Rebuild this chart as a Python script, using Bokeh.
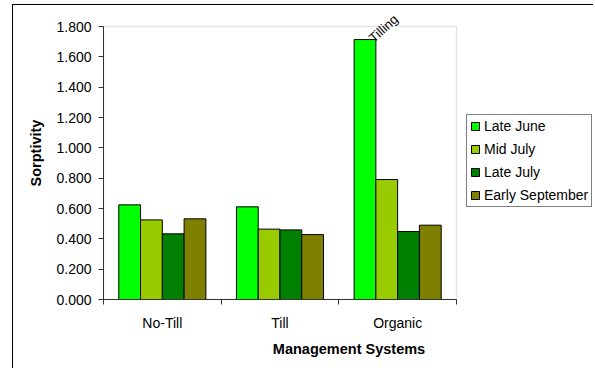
from bokeh.plotting import figure
from bokeh.models import (Range1d, FixedTicker, NumeralTickFormatter, Legend, LegendItem,
                          Label, ColumnDataSource, BoxAnnotation)
from bokeh.embed import file_html
from bokeh.resources import INLINE

# ---- data ----
systems = ["No-Till", "Till", "Organic"]
series = ["Late June", "Mid July", "Late July", "Early September"]
late_june = [0.624, 0.611, 1.714]
mid_july = [0.525, 0.464, 0.791]
late_july = [0.433, 0.459, 0.448]
early_september = [0.532, 0.428, 0.490]
colors = ["#00FF00", "#99CC00", "#008000", "#808000"]
y_ticks = [0.0, 0.2, 0.4, 0.6, 0.8, 1.0, 1.2, 1.4, 1.6, 1.8]
annotation_text = "Tilling"
annotation_system = "Organic"
annotation_series = "Late June"

values = [late_june, mid_july, late_july, early_september]
FONT = "Liberation Sans"
y_min, y_max = y_ticks[0], y_ticks[-1]
n = len(systems)
headroom = 0.1319   # room above the plot area for the rotated note
side_room = 1.173   # room right of the plot area for the legend

p = figure(width=581, height=364, output_backend="svg", toolbar_location=None,
           x_range=Range1d(0, n + side_room), y_range=Range1d(y_min, y_max + headroom),
           min_border_left=90, min_border_right=0, min_border_top=1,
           min_border_bottom=70)
p.styles = {"margin-left": "12px", "margin-top": "4px",
            "border-left": "1px solid black", "border-top": "1px solid black"}
p.xgrid.visible = False
p.ygrid.visible = False
p.outline_line_color = None

# plot-area border (gray)
p.add_layout(BoxAnnotation(left=0, right=n, bottom=y_min, top=y_max,
                           fill_alpha=0, line_color="#a8a8a8", line_width=1.5,
                           level="underlay"))

bar_w = 0.185
offsets = [(-1.5 + k) * bar_w for k in range(len(series))]
items = []
for k, (name, vals) in enumerate(zip(series, values)):
    src = ColumnDataSource(dict(x=[i + 0.5 + offsets[k] for i in range(n)], top=vals))
    r = p.vbar(x="x", top="top", width=bar_w, source=src, fill_color=colors[k],
               line_color="black", line_width=1)
    items.append(LegendItem(label=name, renderers=[r]))

# annotation
ci = systems.index(annotation_system)
si = series.index(annotation_series)
p.add_layout(Label(x=ci + 0.5 + offsets[si], y=values[si][ci], text=annotation_text,
                   angle=42, angle_units="deg", x_offset=6, y_offset=0,
                   text_font=FONT, text_font_size="13px", text_color="black",
                   text_baseline="alphabetic", text_align="left"))

# x axis
xa = p.xaxis[0]
xa.bounds = (0, n)
xa.ticker = FixedTicker(ticks=[i + 0.5 for i in range(n)],
                        minor_ticks=list(range(n + 1)))
xa.major_label_overrides = {i + 0.5: s for i, s in enumerate(systems)}
xa.major_tick_out = 0
xa.major_tick_in = 0
xa.minor_tick_out = 5
xa.minor_tick_in = 0
xa.minor_tick_line_color = "#333333"
xa.axis_line_color = "#333333"
xa.major_label_text_font = FONT
xa.major_label_text_font_size = "14px"
xa.major_label_text_color = "black"
xa.major_label_standoff = 10
xa.axis_label = "Management Systems"
xa.axis_label_text_font = FONT
xa.axis_label_text_font_size = "14.5px"
xa.axis_label_text_font_style = "bold"
xa.axis_label_text_color = "black"
xa.axis_label_standoff = 7

# y axis
ya = p.yaxis[0]
ya.ticker = FixedTicker(ticks=y_ticks, minor_ticks=[])
ya.bounds = (y_min, y_max)
ya.formatter = NumeralTickFormatter(format="0.000")
ya.major_tick_out = 5
ya.major_tick_in = 0
ya.major_tick_line_color = "#333333"
ya.axis_line_color = "#333333"
ya.major_label_text_font = FONT
ya.major_label_text_font_size = "14px"
ya.major_label_text_color = "black"
ya.major_label_standoff = 7
ya.axis_label = "Sorptivity"
ya.axis_label_text_font = FONT
ya.axis_label_text_font_size = "14.5px"
ya.axis_label_text_font_style = "bold"
ya.axis_label_text_color = "black"
ya.axis_label_standoff = 9

legend = Legend(items=items, location=(363, 92), border_line_color="black",
                border_line_width=1, padding=3, spacing=7, margin=0,
                glyph_width=10, glyph_height=10, label_height=16,
                label_standoff=4, label_text_font=FONT, label_text_font_size="14px",
                label_text_color="black", background_fill_alpha=1)
p.add_layout(legend, "center")

open("out.html", "w").write(file_html(p, INLINE))
